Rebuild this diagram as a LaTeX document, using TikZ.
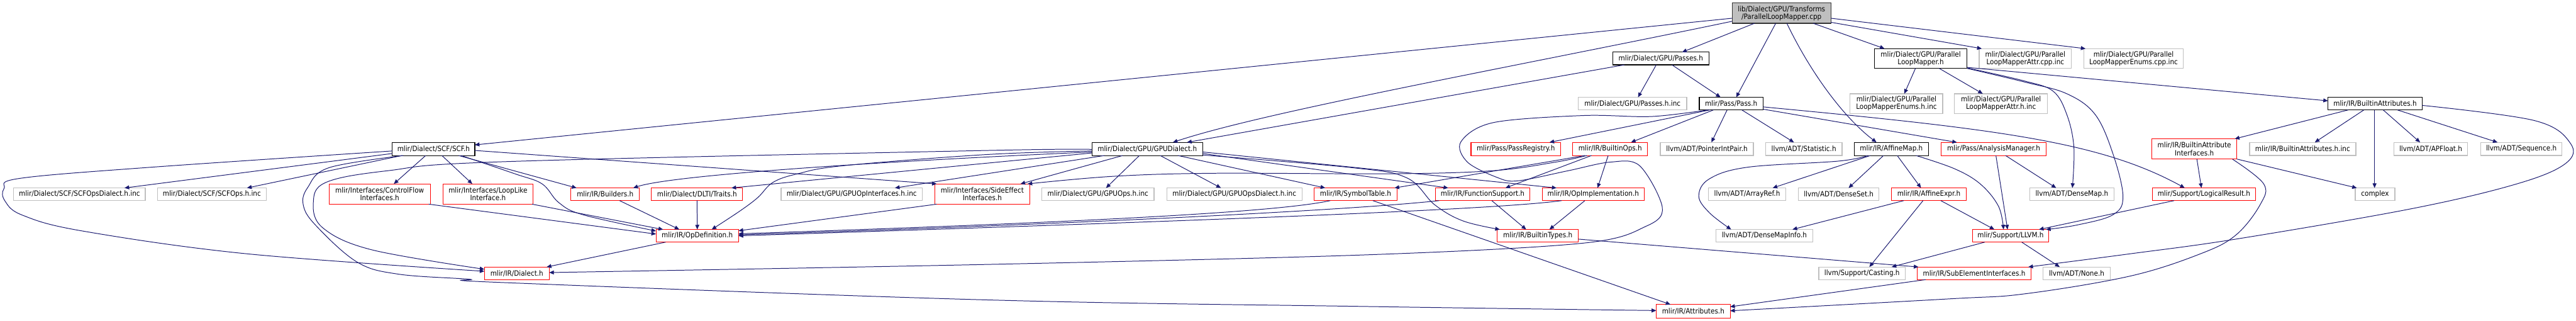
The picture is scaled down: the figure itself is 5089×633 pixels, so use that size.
\documentclass[tikz,border=0pt]{standalone}
\usepackage{fontspec}
\setmainfont{DejaVu Sans Condensed}
\usetikzlibrary{arrows.meta,calc}
\definecolor{edgeblue}{RGB}{25,25,112}
\definecolor{grayb}{RGB}{191,191,191}
\newcommand\gnode[7]{\node[#2, minimum width={(#4-#3)*0.01cm}, minimum height={(#6-#5)*0.01cm}] (#1) at ({(#3+#4)/2},{(#5+#6)/2}) {#7};}
\begin{document}
\begin{tikzpicture}[x=0.01cm,y=-0.01cm, font=\fontsize{4.1}{4.3}\selectfont,
  nb/.style={rectangle, inner sep=0pt, outer sep=0pt, align=center, fill=white, line width=0.4pt},
  blk/.style={nb, draw=black},
  rdn/.style={nb, draw=red},
  gyn/.style={nb, draw=grayb, line width=0.45pt},
  rootn/.style={nb, draw=black!80, fill=grayb},
  edge/.style={draw=edgeblue, line width=0.35pt, -{Triangle[length=2.6pt,width=2.2pt]}}]
\fill[white] (0,0) rectangle (5089,633);
\useasboundingbox (0,0) rectangle (5089,633);
% nodes
\gnode{top}{rootn}{3422}{3617}{6}{46}{lib/Dialect/GPU/Transforms\\/ParallelLoopMapper.cpp}
\gnode{passes}{blk}{3186}{3376}{103}{128}{mlir/Dialect/GPU/Passes.h}
\gnode{plm}{blk}{3703}{3886}{96}{135}{mlir/Dialect/GPU/Parallel\\LoopMapper.h}
\gnode{attrcpp}{gyn}{3910}{4092}{96}{135}{mlir/Dialect/GPU/Parallel\\LoopMapperAttr.cpp.inc}
\gnode{enumcpp}{gyn}{4117}{4313}{96}{135}{mlir/Dialect/GPU/Parallel\\LoopMapperEnums.cpp.inc}
\gnode{passesinc}{gyn}{3118}{3332}{192}{217}{mlir/Dialect/GPU/Passes.h.inc}
\gnode{pass}{blk}{3357}{3483}{192}{217}{mlir/Pass/Pass.h}
\gnode{enumhinc}{gyn}{3655}{3838}{185}{224}{mlir/Dialect/GPU/Parallel\\LoopMapperEnums.h.inc}
\gnode{attrhinc}{gyn}{3861}{4045}{185}{224}{mlir/Dialect/GPU/Parallel\\LoopMapperAttr.h.inc}
\gnode{battr}{blk}{4599}{4785}{192}{217}{mlir/IR/BuiltinAttributes.h}
\gnode{scf}{blk}{775}{938}{281}{307}{mlir/Dialect/SCF/SCF.h}
\gnode{gpud}{blk}{2157}{2376}{281}{307}{mlir/Dialect/GPU/GPUDialect.h}
\gnode{passreg}{rdn}{2906}{3083}{281}{307}{mlir/Pass/PassRegistry.h}
\gnode{bops}{rdn}{3107}{3255}{281}{307}{mlir/IR/BuiltinOps.h}
\gnode{pip}{gyn}{3280}{3464}{281}{307}{llvm/ADT/PointerIntPair.h}
\gnode{stat}{gyn}{3488}{3639}{281}{307}{llvm/ADT/Statistic.h}
\gnode{amap}{blk}{3663}{3810}{281}{307}{mlir/IR/AffineMap.h}
\gnode{am}{rdn}{3835}{4042}{281}{307}{mlir/Pass/AnalysisManager.h}
\gnode{bai}{rdn}{4251}{4419}{274}{314}{mlir/IR/BuiltinAttribute\\Interfaces.h}
\gnode{bainc}{gyn}{4444}{4654}{281}{307}{mlir/IR/BuiltinAttributes.h.inc}
\gnode{apf}{gyn}{4729}{4875}{281}{307}{llvm/ADT/APFloat.h}
\gnode{seq}{gyn}{4901}{5061}{281}{307}{llvm/ADT/Sequence.h}
\gnode{scfod}{gyn}{27}{287}{371}{396}{mlir/Dialect/SCF/SCFOpsDialect.h.inc}
\gnode{scfops}{gyn}{311}{526}{371}{396}{mlir/Dialect/SCF/SCFOps.h.inc}
\gnode{cfi}{rdn}{650}{850}{363}{403}{mlir/Interfaces/ControlFlow\\Interfaces.h}
\gnode{lli}{rdn}{875}{1053}{363}{403}{mlir/Interfaces/LoopLike\\Interface.h}
\gnode{bld}{rdn}{1128}{1263}{371}{396}{mlir/IR/Builders.h}
\gnode{trt}{rdn}{1287}{1467}{371}{396}{mlir/Dialect/DLTI/Traits.h}
\gnode{gopi}{gyn}{1543}{1822}{371}{396}{mlir/Dialect/GPU/GPUOpInterfaces.h.inc}
\gnode{sei}{rdn}{1847}{2034}{363}{403}{mlir/Interfaces/SideEffect\\Interfaces.h}
\gnode{gops}{gyn}{2058}{2280}{371}{396}{mlir/Dialect/GPU/GPUOps.h.inc}
\gnode{gopd}{gyn}{2305}{2572}{371}{396}{mlir/Dialect/GPU/GPUOpsDialect.h.inc}
\gnode{symt}{rdn}{2596}{2760}{371}{396}{mlir/IR/SymbolTable.h}
\gnode{fs}{rdn}{2836}{3022}{371}{396}{mlir/IR/FunctionSupport.h}
\gnode{opi}{rdn}{3047}{3248}{371}{396}{mlir/IR/OpImplementation.h}
\gnode{arr}{gyn}{3375}{3528}{371}{396}{llvm/ADT/ArrayRef.h}
\gnode{dset}{gyn}{3553}{3712}{371}{396}{llvm/ADT/DenseSet.h}
\gnode{aexp}{rdn}{3737}{3884}{371}{396}{mlir/IR/AffineExpr.h}
\gnode{dmap}{gyn}{4010}{4176}{371}{396}{llvm/ADT/DenseMap.h}
\gnode{lres}{rdn}{4252}{4456}{371}{396}{mlir/Support/LogicalResult.h}
\gnode{cplx}{gyn}{4653}{4731}{371}{396}{complex}
\gnode{opdef}{rdn}{1296}{1459}{453}{478}{mlir/IR/OpDefinition.h}
\gnode{btypes}{rdn}{2958}{3118}{453}{478}{mlir/IR/BuiltinTypes.h}
\gnode{dmi}{gyn}{3390}{3581}{453}{478}{llvm/ADT/DenseMapInfo.h}
\gnode{llvm}{rdn}{3897}{4047}{453}{478}{mlir/Support/LLVM.h}
\gnode{dial}{rdn}{957}{1085}{527}{552}{mlir/IR/Dialect.h}
\gnode{cast}{gyn}{3593}{3764}{527}{552}{llvm/Support/Casting.h}
\gnode{subel}{rdn}{3788}{4012}{527}{552}{mlir/IR/SubElementInterfaces.h}
\gnode{none}{gyn}{4036}{4169}{527}{552}{llvm/ADT/None.h}
\gnode{attr}{rdn}{3272}{3418}{601}{628}{mlir/IR/Attributes.h}
% edges from top
\draw[edge] ($(top.south)+(-53.5,0)$) -- ($(passes.north)+(42,0)$);
\draw[edge] ($(top.south)+(-11.5,0)$) -- ($(pass.north)+(10,0)$);
\draw[edge] ($(top.south)+(10.5,0)$) .. controls (3575,140) and (3640,230) .. ($(amap.north)+(-29.5,0)$);
\draw[edge] ($(top.south)+(62.5,0)$) -- ($(plm.north)+(-71.5,0)$);
\draw[edge] ($(top.east)+(0,18)$) -- ($(attrcpp.north)+(-86,0)$);
\draw[edge] ($(top.east)+(0,10)$) -- ($(enumcpp.north)+(-95,0)$);
\draw[edge] ($(top.west)+(0,10)$) -- ($(scf.east)+(0,-8)$);
\draw[edge] ($(top.west)+(0,16)$) .. controls (3000,130) and (2500,220) .. ($(gpud.north)+(50.5,0)$);
% passes
\draw[edge] ($(passes.south)+(-72,0)$) -- ($(gpud.north)+(78.5,0)$);
\draw[edge] ($(passes.south)+(-9,0)$) -- ($(passesinc.north)+(11,0)$);
\draw[edge] ($(passes.south)+(22,0)$) -- ($(pass.north)+(-21,0)$);
% pass
\draw[edge] ($(pass.south)+(-42,0)$) -- ($(passreg.north)+(66.5,0)$);
\draw[edge] ($(pass.south)+(-35,0)$) -- ($(bops.north)+(41,0)$);
\draw[edge] ($(pass.south)+(-8,0)$) -- ($(pip.north)+(9,0)$);
\draw[edge] ($(pass.south)+(21,0)$) -- ($(stat.north)+(-19.5,0)$);
\draw[edge] ($(pass.east)+(0,11)$) -- ($(am.north)+(-72.5,0)$);
\draw[edge] ($(pass.east)+(0,6.5)$) .. controls (3950,255) and (4150,280) .. ($(lres.north)+(-38,0)$);
\draw[edge] plot[smooth, tension=0.55] coordinates {($(pass.south)+(-46,0)$) (3262,230) (3129,228) (2950,242) (2886,280) (2899,320) (2957,350) (2998,357) (3098,337) (3181,320) (3239,327) (3284,410) (3251,447) (3127,480) (2700,503) (1950,522) ($(dial.east)+(0,-1.5)$)};
% plm
\draw[edge] ($(plm.south)+(-10.5,0)$) -- ($(enumhinc.north)+(15.5,0)$);
\draw[edge] ($(plm.south)+(36.5,0)$) -- ($(attrhinc.north)+(-36,0)$);
\draw[edge] ($(plm.east)+(0,17.5)$) -- ($(battr.west)+(0,-5.5)$);
\draw[edge] plot[smooth, tension=0.6] coordinates {($(plm.east)+(0,18.5)$) (4000,160) (4056,180) (4083,226) (4097,290) ($(dmap.north)+(1,0)$)};
\draw[edge] plot[smooth, tension=0.6] coordinates {($(plm.east)+(0,19.5)$) (4000,162) (4083,185) (4139,226) (4174,303) (4194,388) (4174,424) (4104,444) ($(llvm.north)+(70,0)$)};
% amap
\draw[edge] ($(amap.south)+(-41.5,0)$) -- ($(arr.north)+(50.5,0)$);
\draw[edge] ($(amap.south)+(-15.5,0)$) -- ($(dset.north)+(19.5,0)$);
\draw[edge] ($(amap.south)+(11.5,0)$) -- ($(aexp.north)+(-15.5,0)$);
\draw[edge] plot[smooth, tension=0.6] coordinates {($(amap.south)+(-46.5,0)$) (3632,318) (3453,330) (3377,353) (3356,387) (3377,420) ($(dmi.north)+(-65.5,0)$)};
\draw[edge] plot[smooth, tension=0.6] coordinates {($(amap.south)+(48.5,0)$) (3861,333) (3912,363) (3948,407) ($(llvm.north)+(-14,0)$)};
% aexp, am, llvm, lres
\draw[edge] ($(aexp.south)+(-49.5,0)$) -- ($(dmi.north)+(55.5,0)$);
\draw[edge] ($(aexp.south)+(-11.5,0)$) -- ($(cast.north)+(14.5,0)$);
\draw[edge] ($(aexp.south)+(23.5,0)$) -- ($(llvm.north)+(-32,0)$);
\draw[edge] ($(am.south)+(4.5,0)$) -- ($(llvm.north)+(-6,0)$);
\draw[edge] ($(am.south)+(23.5,0)$) -- ($(dmap.north)+(-31,0)$);
\draw[edge] ($(llvm.south)+(-51,0)$) -- ($(cast.north)+(58.5,0)$);
\draw[edge] ($(llvm.south)+(22,0)$) -- ($(none.north)+(-33.5,0)$);
\draw[edge] ($(lres.south)+(-59,0)$) -- ($(llvm.north)+(56,0)$);
% bai
\draw[edge] ($(bai.south)+(5,0)$) -- ($(lres.north)+(-5,0)$);
\draw[edge] ($(bai.south)+(84,0)$) -- ($(cplx.north)+(-36,0)$);
\draw[edge] plot[smooth, tension=0.6] coordinates {($(bai.south)+(75,0)$) (4472,363) (4465,404) (4417,464) (4347,501) (4208,545) (4000,580) (3850,590) ($(attr.east)+(0,-1)$)};
% battr
\draw[edge] ($(battr.south)+(-53,0)$) -- ($(bai.north)+(80,0)$);
\draw[edge] ($(battr.south)+(-22,0)$) -- ($(bainc.north)+(24,0)$);
\draw[edge] ($(battr.south)+(-1,0)$) -- ($(cplx.north)+(-1,0)$);
\draw[edge] ($(battr.south)+(16,0)$) -- ($(apf.north)+(-21,0)$);
\draw[edge] ($(battr.south)+(44,0)$) -- ($(seq.north)+(-47,0)$);
\draw[edge] plot[smooth, tension=0.6] coordinates {($(battr.east)+(0,3.5)$) (5007,238) (5078,283) (5068,323) (4972,363) (4764,412) (4417,472) (4208,501) ($(subel.north)+(107,0)$)};
% btypes, subel, symt, fs, opi, sei
\draw[edge] ($(btypes.east)+(0,6.5)$) -- ($(subel.north)+(-110,0)$);
\draw[edge] ($(subel.south)+(-96,0)$) -- ($(attr.east)+(0,-9)$);
\draw[edge] ($(symt.south)+(34,0)$) -- ($(attr.north)+(-45,0)$);
\draw[edge] ($(symt.south)+(-50,0)$) .. controls (2520,420) and (2100,440) .. ($(opdef.east)+(0,-4)$);
\draw[edge] ($(fs.south)+(-86,0)$) .. controls (2700,412) and (2200,440) .. ($(opdef.east)+(0,-2)$);
\draw[edge] ($(opi.south)+(-62.5,0)$) .. controls (2950,415) and (2300,438) .. ($(opdef.east)+(0,0)$);
\draw[edge] ($(sei.south)+(-90,0)$) -- ($(opdef.east)+(0,-10)$);
\draw[edge] ($(fs.south)+(18,0)$) -- ($(btypes.north)+(-23,0)$);
\draw[edge] ($(opi.south)+(-16.5,0)$) -- ($(btypes.north)+(23,0)$);
% into opdef from left/top
\draw[edge] ($(bld.south)+(28.5,0)$) -- ($(opdef.north)+(-35.5,0)$);
\draw[edge] (trt.south) -- (opdef.north);
\draw[edge] ($(lli.south)+(87,0)$) -- ($(opdef.north)+(-67.5,0)$);
\draw[edge] ($(cfi.south)+(97,0)$) -- ($(opdef.west)+(0,-3.5)$);
\draw[edge] plot[smooth, tension=0.6] coordinates {($(scf.south)+(54.5,0)$) (1017,343) (1071,363) (1104,400) (1152,424) ($(opdef.west)+(0,-9.5)$)};
\draw[edge] ($(opdef.south)+(-62.5,0)$) -- ($(dial.north)+(59,0)$);
% gpud
\draw[edge] ($(gpud.south)+(-48.5,0)$) -- ($(sei.north)+(75.5,0)$);
\draw[edge] ($(gpud.south)+(-15.5,0)$) -- ($(gops.north)+(16,0)$);
\draw[edge] ($(gpud.south)+(25.5,0)$) -- ($(gopd.north)+(-26.5,0)$);
\draw[edge] ($(gpud.south)+(60.5,0)$) -- ($(symt.north)+(-60,0)$);
\draw[edge] ($(gpud.east)+(0,9)$) -- ($(fs.north)+(-68,0)$);
\draw[edge] ($(gpud.east)+(0,6)$) -- ($(opi.north)+(-72.5,0)$);
\draw[edge] plot[smooth, tension=0.6] coordinates {($(gpud.east)+(0,12)$) (2671,331) (2779,351) (2834,404) (2890,436) ($(btypes.north)+(-75,0)$)};
\draw[edge] ($(gpud.south)+(-84.5,0)$) -- ($(gopi.north)+(85.5,0)$);
\draw[edge] ($(gpud.west)+(0,8)$) -- ($(trt.north)+(68,0)$);
\draw[edge] ($(gpud.west)+(0,6)$) .. controls (1750,318) and (1330,345) .. ($(bld.north)+(55.5,0)$);
\draw[edge] plot[smooth, tension=0.6] coordinates {($(gpud.west)+(0,4)$) (1950,305) (1667,327) (1576,343) (1527,360) (1497,390) (1461,417) ($(opdef.north)+(28.5,0)$)};
\draw[edge] plot[smooth, tension=0.6] coordinates {($(gpud.west)+(0,1)$) (1950,297) (1000,319) (766,337) (644,360) (619,400) (638,450) (734,493) ($(dial.west)+(0,-8)$)};
% scf
\draw[edge] plot[smooth, tension=0.6] coordinates {($(scf.south)+(-59.5,0)$) (650,331) (608,370) (599,404) (623,444) (705,517) (786,541) (925,551) (1000,558) (1950,592) (2700,605) ($(attr.west)+(0,-1.5)$)};
\draw[edge] plot[smooth, tension=0.6] coordinates {($(scf.west)+(0,4)$) (300,330) (40,352) (8,372) (10,397) (45,425) (163,456) (488,501) ($(dial.west)+(0,-4)$)};
\draw[edge] ($(scf.east)+(0,3)$) -- ($(sei.north)+(-90,0)$);
\draw[edge] ($(scf.west)+(0,9)$) -- ($(scfod.north)+(89,0)$);
\draw[edge] ($(scf.south)+(-62.5,0)$) -- ($(scfops.north)+(69.5,0)$);
\draw[edge] ($(scf.south)+(-15.5,0)$) -- ($(cfi.north)+(28,0)$);
\draw[edge] ($(scf.south)+(16.5,0)$) -- ($(lli.north)+(-31,0)$);
\draw[edge] ($(scf.south)+(49.5,0)$) -- ($(bld.north)+(-56.5,0)$);
% bops
\draw[edge] ($(bops.south)+(-50,0)$) -- ($(symt.north)+(77,0)$);
\draw[edge] ($(bops.south)+(-37,0)$) -- ($(fs.north)+(45,0)$);
\draw[edge] ($(bops.south)+(-4,0)$) -- ($(opi.north)+(8.5,0)$);
\draw[edge] plot[smooth, tension=0.6] coordinates {($(bops.south)+(-46,0)$) (3073,320) (2949,337) (2750,343) (2400,342) (2200,348) ($(sei.north)+(89.5,0)$)};
\end{tikzpicture}
\end{document}
